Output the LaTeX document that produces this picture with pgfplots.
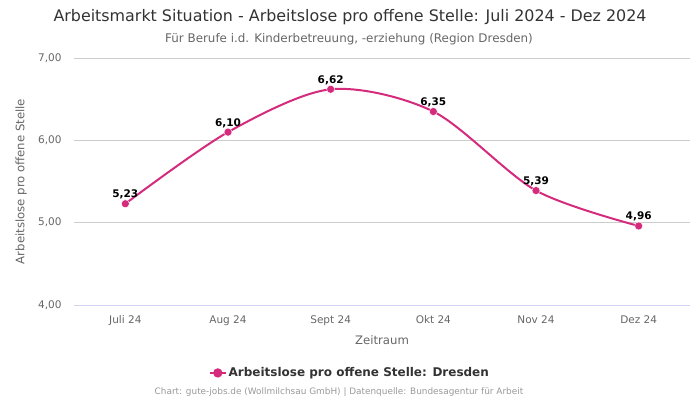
\documentclass[border=0pt]{standalone}
\usepackage{pgfplots}
\pgfplotsset{compat=1.18}
\usepackage{fontspec}
\setmainfont{DejaVu Sans}
\definecolor{linec}{RGB}{213,43,124}
\definecolor{txtdark}{RGB}{51,51,51}
\definecolor{txtgray}{RGB}{102,102,102}
\definecolor{gridc}{RGB}{204,204,204}
\definecolor{footc}{RGB}{153,153,153}
\begin{document}
\begin{tikzpicture}[x=1pt,y=1pt]
\path (0,0) rectangle (700,400);
\node[text=txtdark,font=\fontsize{15.9}{17}\selectfont] at (350,383) {Arbeitsmarkt Situation - Arbeitslose pro offene Stelle: Juli 2024 - Dez 2024};
\node[text=txtgray,font=\fontsize{11.9}{13}\selectfont] at (349,361) {Für Berufe i.d. Kinderbetreuung, -erziehung (Region Dresden)};
\node[text=footc,font=\fontsize{8.9}{10}\selectfont] at (339,8) {Chart: gute-jobs.de (Wollmilchsau GmbH) | Datenquelle: Bundesagentur für Arbeit};
\begin{axis}[
  at={(74pt,95pt)}, anchor=south west,
  scale only axis, width=616pt, height=247pt,
  xmin=-0.5, xmax=5.5, ymin=4, ymax=7,
  xtick={0,1,2,3,4,5},
  xticklabels={Juli 24,Aug 24,Sept 24,Okt 24,Nov 24,Dez 24},
  ytick={4,5,6,7},
  axis line style={draw=none},
  ymajorgrids, grid style={gridc, line width=0.8pt},
  major tick length=0pt,
  tick label style={text=txtgray, font=\fontsize{10.5}{12}\selectfont},
  /pgf/number format/assume math mode=true,
  yticklabel={\pgfmathprintnumber[fixed,fixed zerofill,precision=2,use comma]{\tick}},
  yticklabel style={xshift=-9pt},
  xticklabel style={yshift=-7pt},
  xlabel={Zeitraum},
  ylabel={Arbeitslose pro offene Stelle},
  label style={text=txtgray, font=\fontsize{11.7}{13}\selectfont},
  xlabel style={at={(rel axis cs:0.5,-0.142)}, anchor=center},
  ylabel style={at={(rel axis cs:-0.086,0.5)}, anchor=center},
  nodes near coords={\pgfmathprintnumber[fixed,fixed zerofill,precision=2,use comma,assume math mode=true]{\pgfplotspointmeta}},
  nodes near coords style={font=\bfseries\fontsize{10.5}{12}\selectfont, text=black, yshift=1pt},
  legend style={at={(0.448,-0.275)}, anchor=center, draw=none, fill=none,
    font=\bfseries\fontsize{12}{13}\selectfont, text=txtdark},
  legend image code/.code={
    \draw[linec, line width=2pt] (0mm,0mm) -- (5.5mm,0mm);
    \fill[linec] (2.75mm,0mm) circle (3.6pt);
  },
]
\addplot[linec, line width=2pt, smooth, tension=0.5, mark=*, mark size=4pt, mark options={fill=linec, draw=white, line width=0.4pt}] coordinates {
 (0,5.23) (1,6.10) (2,6.62) (3,6.35) (4,5.39) (5,4.96)
};
\addlegendentry{Arbeitslose pro offene Stelle: Dresden}
\end{axis}
\draw[gridc!70!blue!40, line width=0.8pt] (74,95) -- (690,95);
\end{tikzpicture}
\end{document}
